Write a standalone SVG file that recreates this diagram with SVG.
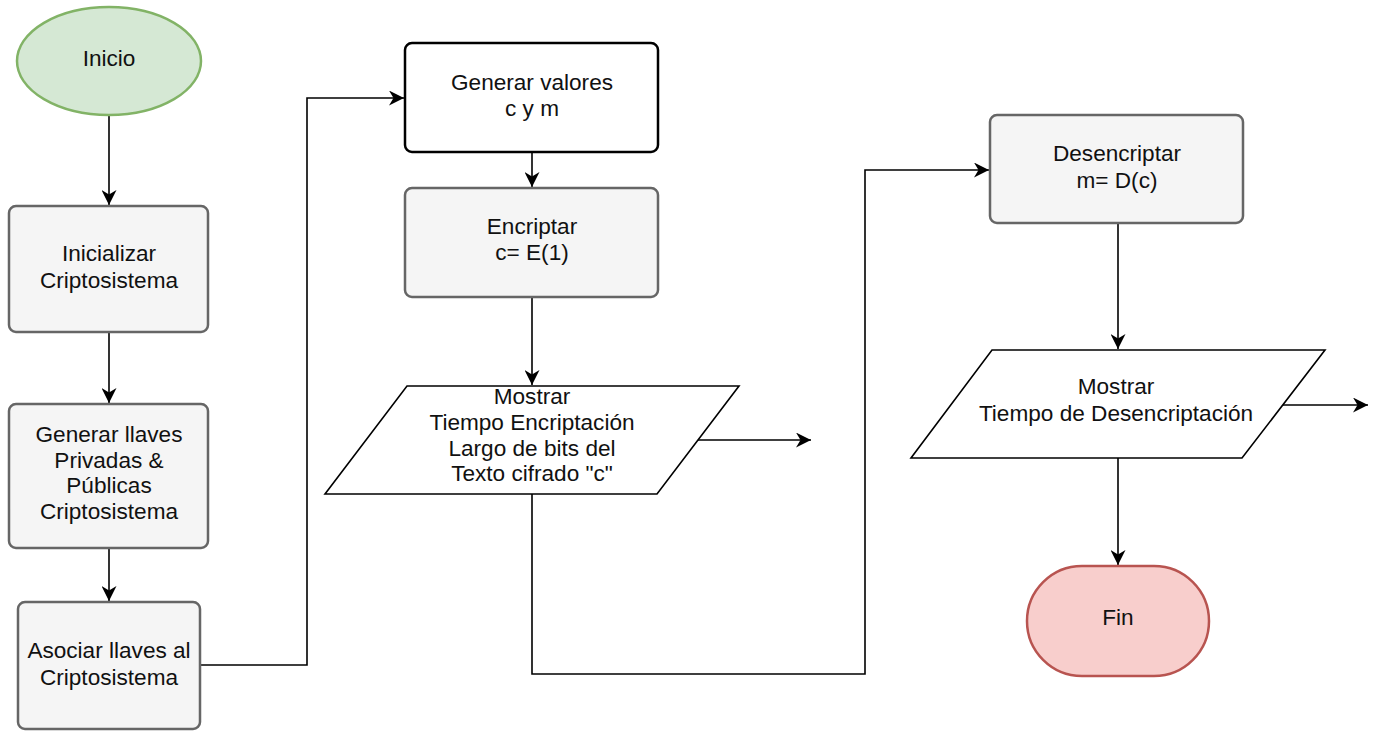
<svg xmlns="http://www.w3.org/2000/svg" width="1382" height="732" viewBox="0 0 1382 732">
  <style>
    .lbl { font-family: "Liberation Sans", Arial, sans-serif; font-size: 22.6px; fill: #111111; text-anchor: middle; }
    .proc { fill: #f5f5f5; stroke: #666666; stroke-width: 2.5; }
    .plain { fill: #ffffff; stroke: #000000; stroke-width: 2.5; }
    .io { fill: #ffffff; stroke: #000000; stroke-width: 1.6; }
    .start { fill: #d5e8d4; stroke: #82b366; stroke-width: 2.5; }
    .end { fill: #f8cecc; stroke: #b85450; stroke-width: 2.5; }
    .edge { fill: none; stroke: #000000; stroke-width: 1.6; marker-end: url(#arrow); }
  </style>
  <defs>
    <marker id="arrow" markerUnits="userSpaceOnUse" markerWidth="16" markerHeight="15" refX="15" refY="7.5" orient="auto">
      <path d="M0,0 L15,7.5 L0,15 L4.5,7.5 z" fill="#000000"/>
    </marker>
  </defs>
  <rect width="1382" height="732" fill="#ffffff"/>

  <g id="connectors">
    <path class="edge" d="M109,115 L109,205"/>
    <path class="edge" d="M109,332 L109,403"/>
    <path class="edge" d="M109,548 L109,601"/>
    <path class="edge" d="M200,665 L307,665 L307,98 L404,98"/>
    <path class="edge" d="M532,152 L532,187"/>
    <path class="edge" d="M532,297 L532,385"/>
    <path class="edge" d="M698,440 L811,440"/>
    <path class="edge" d="M532,494 L532,674 L865,674 L865,170 L989,170"/>
    <path class="edge" d="M1118,223 L1118,349"/>
    <path class="edge" d="M1283,405 L1368,405"/>
    <path class="edge" d="M1118,458 L1118,565"/>
  </g>

  <g id="inicio">
    <ellipse class="start" cx="109" cy="61" rx="92" ry="54"/>
    <text class="lbl" x="109" y="66">Inicio</text>
  </g>

  <g id="inicializar">
    <rect class="proc" x="9" y="206" width="199" height="126" rx="7"/>
    <text class="lbl" x="109" y="261">Inicializar</text>
    <text class="lbl" x="109" y="288">Criptosistema</text>
  </g>

  <g id="generar-llaves">
    <rect class="proc" x="9" y="404" width="199" height="144" rx="7"/>
    <text class="lbl" x="109" y="442">Generar llaves</text>
    <text class="lbl" x="109" y="468">Privadas &amp;</text>
    <text class="lbl" x="109" y="493">Públicas</text>
    <text class="lbl" x="109" y="519">Criptosistema</text>
  </g>

  <g id="asociar">
    <rect class="proc" x="18" y="602" width="182" height="127" rx="7"/>
    <text class="lbl" x="109" y="658">Asociar llaves al</text>
    <text class="lbl" x="109" y="685">Criptosistema</text>
  </g>

  <g id="generar-valores">
    <rect class="plain" x="405" y="43" width="253" height="109" rx="7"/>
    <text class="lbl" x="532" y="90">Generar valores</text>
    <text class="lbl" x="532" y="116">c y m</text>
  </g>

  <g id="encriptar">
    <rect class="proc" x="405" y="188" width="253" height="109" rx="7"/>
    <text class="lbl" x="532" y="234">Encriptar</text>
    <text class="lbl" x="532" y="260">c= E(1)</text>
  </g>

  <g id="mostrar-encriptacion">
    <polygon class="io" points="407,386 739,386 657,494 325,494"/>
    <text class="lbl" x="532" y="404">Mostrar</text>
    <text class="lbl" x="532" y="430">Tiempo Encriptación</text>
    <text class="lbl" x="532" y="456">Largo de bits del</text>
    <text class="lbl" x="532" y="481">Texto cifrado "c"</text>
  </g>

  <g id="desencriptar">
    <rect class="proc" x="990" y="115" width="253" height="108" rx="7"/>
    <text class="lbl" x="1117" y="161">Desencriptar</text>
    <text class="lbl" x="1117" y="188">m= D(c)</text>
  </g>

  <g id="mostrar-desencriptacion">
    <polygon class="io" points="992,350 1325,350 1242,458 911,458"/>
    <text class="lbl" x="1116" y="394">Mostrar</text>
    <text class="lbl" x="1116" y="421">Tiempo de Desencriptación</text>
  </g>

  <g id="fin">
    <rect class="end" x="1027" y="566" width="182" height="110" rx="55"/>
    <text class="lbl" x="1118" y="625">Fin</text>
  </g>
</svg>
